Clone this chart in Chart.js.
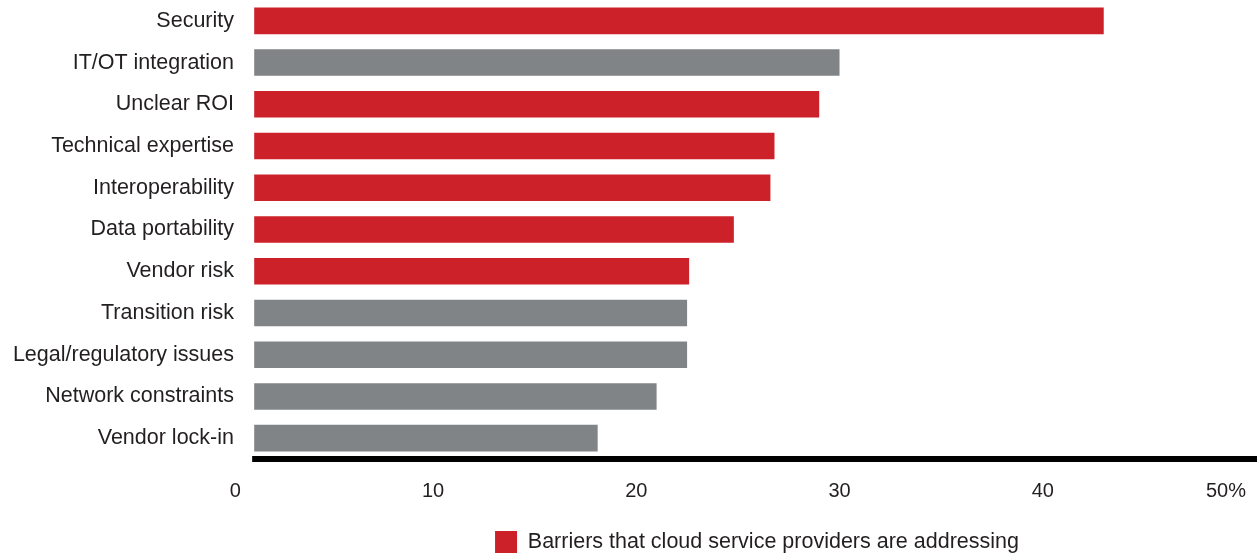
<!DOCTYPE html>
<html>
<head>
<meta charset="utf-8">
<script src="https://cdn.jsdelivr.net/npm/chart.js@4"></script>
<style>
    html, body { margin: 0; padding: 0; background: #ffffff; }
    #wrap { width: 1257px; height: 555px; position: relative; }
</style>
</head>
<body>
<div id="wrap"><canvas id="barrierChart"></canvas></div>
<script>
// Barriers to cloud adoption (% of respondents)
const barriers = [
    'Security', 'IT/OT integration', 'Unclear ROI', 'Technical expertise',
    'Interoperability', 'Data portability', 'Vendor risk', 'Transition risk',
    'Legal/regulatory issues', 'Network constraints', 'Vendor lock-in'
];
const shares = [43, 30, 29, 26.8, 26.6, 24.8, 22.6, 22.5, 22.5, 21, 18.1];
// true = barrier that cloud service providers are addressing
const addressed = [true, false, true, true, true, true, true, false, false, false, false];
const xTicks = [0, 10, 20, 30, 40, 50];

const RED = '#cc2128';
const GREY = '#818486';
const TEXT = '#231f20';
const FONT = 'Liberation Sans, Arial, sans-serif';

const addressedValues = shares.map((v, i) => addressed[i] ? v : null);
const otherValues = shares.map((v, i) => addressed[i] ? null : v);

// thick black baseline under the bars, running to the right edge
const baselinePlugin = {
    id: 'baseline',
    afterDatasetsDraw(chart) {
        const ctx = chart.ctx;
        const x0 = chart.scales.x.getPixelForValue(1.1);
        const y = chart.chartArea.bottom;
        ctx.save();
        ctx.fillStyle = '#000000';
        ctx.fillRect(x0, y - 3, chart.width - x0, 6);
        ctx.restore();
    }
};

// legend sits a little right of centre and close to the bottom edge
const legendNudge = {
    id: 'legendNudge',
    afterLayout(chart) {
        const lg = chart.legend;
        if (!lg) return;
        lg.left += 13;
        lg.right += 13;
        lg.top += 8;
        lg.bottom += 8;
    }
};

document.addEventListener('DOMContentLoaded', function() {
    const ctx = document.getElementById('barrierChart').getContext('2d');

    new Chart(ctx, {
        type: 'bar',
        data: {
            labels: barriers,
            datasets: [
                {
                    label: 'Barriers that cloud service providers are addressing',
                    data: addressedValues,
                    backgroundColor: RED,
                    base: 1.2,
                    grouped: false
                },
                {
                    label: 'Other barriers',
                    data: otherValues,
                    backgroundColor: GREY,
                    base: 1.2,
                    grouped: false
                }
            ]
        },
        options: {
            indexAxis: 'y',
            responsive: true,
            maintainAspectRatio: false,
            animation: false,
            categoryPercentage: 0.636,
            barPercentage: 1,
            layout: {
                padding: { top: 0, right: 11, bottom: 0, left: 0 }
            },
            plugins: {
                legend: {
                    position: 'bottom',
                    fullSize: false,
                    labels: {
                        filter: item => item.datasetIndex === 0,
                        boxWidth: 22,
                        boxHeight: 22,
                        padding: 10,
                        color: TEXT,
                        font: { family: FONT, size: 21.5 }
                    }
                },
                tooltip: { enabled: false }
            },
            scales: {
                x: {
                    min: 0.6,
                    max: 50,
                    afterBuildTicks: scale => {
                        scale.ticks = xTicks.map(v => ({ value: v }));
                    },
                    afterFit: scale => {
                        scale.paddingLeft = 0;
                        scale.paddingRight = 0;
                        scale.height = 54;
                    },
                    grid: { display: false },
                    border: { display: false },
                    ticks: {
                        align: 'inner',
                        padding: 12,
                        color: TEXT,
                        font: { family: FONT, size: 20 },
                        callback: value => value === 50 ? '50%' : value
                    }
                },
                y: {
                    afterFit: scale => {
                        scale.width = 242;
                        scale.paddingTop = 0;
                        scale.paddingBottom = 0;
                    },
                    grid: { display: false },
                    border: { display: false },
                    ticks: {
                        padding: 0,
                        color: TEXT,
                        font: { family: FONT, size: 21.5 }
                    }
                }
            }
        },
        plugins: [baselinePlugin, legendNudge]
    });
});
</script>
</body>
</html>
